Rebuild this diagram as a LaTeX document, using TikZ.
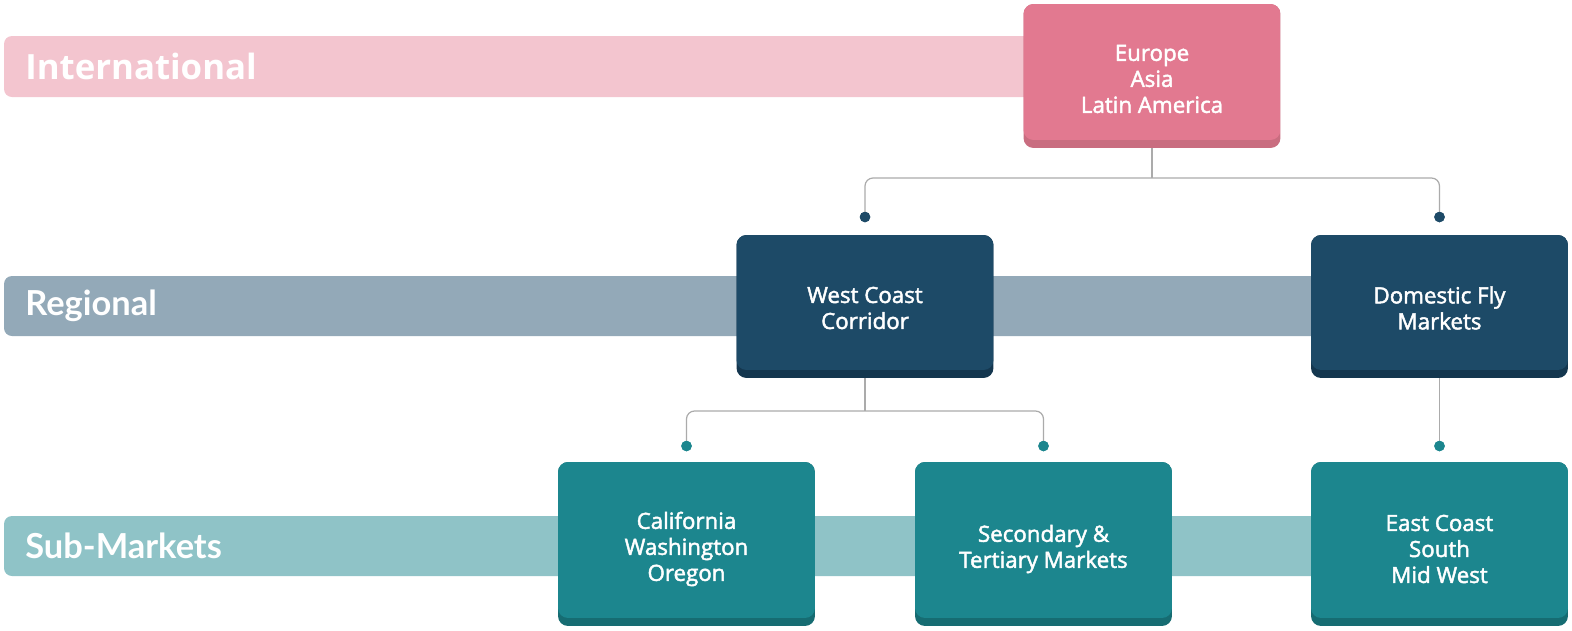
\documentclass[tikz,border=0pt]{standalone}
\usepackage{fontspec}
\setmainfont{Open Sans}[FakeBold=2]
\newfontfamily\bandfont{Open Sans}
\newfontfamily\bandfontnarrow{Lato}
\begin{document}
\definecolor{pinkband}{HTML}{F3C5CF}
\definecolor{pinkbox}{HTML}{E27990}
\definecolor{pinkedge}{HTML}{C96D80}
\definecolor{navyband}{HTML}{93A9B8}
\definecolor{navybox}{HTML}{1D4A67}
\definecolor{navyedge}{HTML}{14374F}
\definecolor{tealband}{HTML}{8FC3C7}
\definecolor{tealbox}{HTML}{1C868E}
\definecolor{tealedge}{HTML}{166C72}
\definecolor{linkgray}{HTML}{ABABAB}
\begin{tikzpicture}[x=0.02cm,y=-0.02cm,
  band/.style={rounded corners=0.16cm},
  bandlabel/.style={anchor=west,text=white,inner sep=0pt,font=\bandfont\bfseries\fontsize{19.8}{22}\selectfont},
  bandlabelnarrow/.style={bandlabel,font=\bandfontnarrow\bfseries\fontsize{19.6}{22}\selectfont},
  % card with a darker lip along the bottom edge
  card/.style 2 args={draw=none,fill=#2,rounded corners=0.2cm,
    minimum width=5.14cm,inner sep=0pt,
    path picture={\fill[#1,rounded corners=0.2cm]
      (path picture bounding box.north west) rectangle
      ([yshift=0.16cm]path picture bounding box.south east);}},
  cardtext/.style={text=white,align=center,inner sep=0pt,
    font=\fontsize{12.7}{14.8}\selectfont},
  link/.style={draw=linkgray,line width=0.7pt,rounded corners=0.16cm},
  dot/.style={circle,fill=#1,inner sep=0pt,minimum size=0.21cm}]
\useasboundingbox (0,0) rectangle (1572,630);

% level bands
\fill[pinkband,band] (4,36) rectangle (1040,97);
\fill[navyband,band] (4,276) rectangle (1330,336);
\fill[tealband,band] (4,516) rectangle (1330,576);
\node[bandlabel] (lint) at (25,66) {International};
\node[bandlabelnarrow] (lreg) at (25,306) {Regional};
\node[bandlabelnarrow] (lsub) at (25,546) {Sub-Markets};

% cards
\node[card={pinkbox}{pinkedge},minimum height=2.88cm] (intl) at (1152,76) {};
\node[card={navybox}{navyedge},minimum height=2.86cm] (west) at (865,306.5) {};
\node[card={navybox}{navyedge},minimum height=2.86cm] (dom) at (1439.5,306.5) {};
\node[card={tealbox}{tealedge},minimum height=3.28cm] (cal) at (686.5,544) {};
\node[card={tealbox}{tealedge},minimum height=3.28cm] (sec) at (1043.5,544) {};
\node[card={tealbox}{tealedge},minimum height=3.28cm] (east) at (1439.5,544) {};

% card texts
\node[cardtext] (intlt) at (1152,79) {Europe\\Asia\\Latin America};
\node[cardtext] (westt) at (865,308) {West Coast\\Corridor};
\node[cardtext] (domt) at (1439.5,308) {Domestic Fly\\Markets};
\node[cardtext] (calt) at (686.5,549) {California\\Washington\\Oregon};
\node[cardtext] (sect) at (1043.5,549) {Secondary \&\\Tertiary Markets};
\node[cardtext] (eastt) at (1439.5,549) {East Coast\\South\\Mid West};

% connector end points
\node[dot=navybox] (dwest) at (865,217) {};
\node[dot=navybox] (ddom) at (1439.5,217) {};
\node[dot=tealbox] (dcal) at (686.5,446) {};
\node[dot=tealbox] (dsec) at (1043.5,446) {};
\node[dot=tealbox] (deast) at (1439.5,446) {};
\coordinate (j1) at (1152,178);
\coordinate (j2) at (865,411);

% connectors
\draw[link] (intl.south) -- (j1);
\draw[link] (dwest.center) |- (j1) -| (ddom.center);
\draw[link] (west.south) -- (j2);
\draw[link] (dcal.center) |- (j2) -| (dsec.center);
\draw[link] (dom.south) -- (deast.center);
% dots above the lines
\foreach \d/\c in {dwest/navybox,ddom/navybox,dcal/tealbox,dsec/tealbox,deast/tealbox}
  \fill[\c] (\d) circle (0.105cm);
\end{tikzpicture}
\end{document}
